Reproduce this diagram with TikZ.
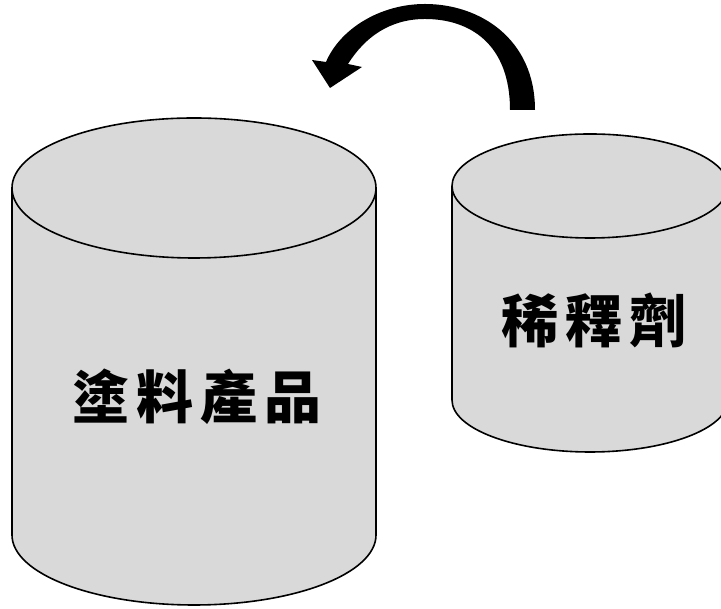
\documentclass[tikz,border=0pt]{standalone}
\usepackage{fontspec}
\newfontfamily\cjk{Noto Sans CJK TC}[LetterSpace=12]
\usepackage{tikz}
\usetikzlibrary{positioning}
\tikzset{
  tank/.style={fill=black!15, draw=black, line width=1.6pt},
  rim/.style={draw=black, line width=1.6pt},
  label/.style={font=\cjk\bfseries\fontsize{57}{60}\selectfont, inner sep=0pt},
  pour/.style={fill=black, draw=none}
}
\begin{document}
\begin{tikzpicture}[x=1pt, y=1pt]
\useasboundingbox (0,0) rectangle (721,609);

% paint product
\path[tank] (12,421) -- (12,74) arc (180:360:182 and 70) -- (376,421)
  arc (0:180:182 and 70) -- cycle;
\draw[rim] (12,421) arc (180:360:182 and 70);
\node (paint) [label] at (197,212) {塗料產品};

% thinner
\path[tank] (452,423) -- (452,209) arc (180:360:138 and 52) -- (728,423)
  arc (0:180:138 and 52) -- cycle;
\draw[rim] (452,423) arc (180:360:138 and 52);
\node (thinner) [label] at (594,289) {稀釋劑};

% pouring arrow
\coordinate (tail) at (522,499);
\coordinate (tip) at (330,521);
\path[pour] (535,499) .. controls (535,570) and (480,605) .. (425,605)
  .. controls (380,605) and (340,580) .. (326,547)
  -- (312,549) -- (tip) -- (362,542) -- (348,545)
  .. controls (365,572) and (390,590) .. (425,590)
  .. controls (470,590) and (510,565) .. (510,499) -- cycle;

\end{tikzpicture}
\end{document}
